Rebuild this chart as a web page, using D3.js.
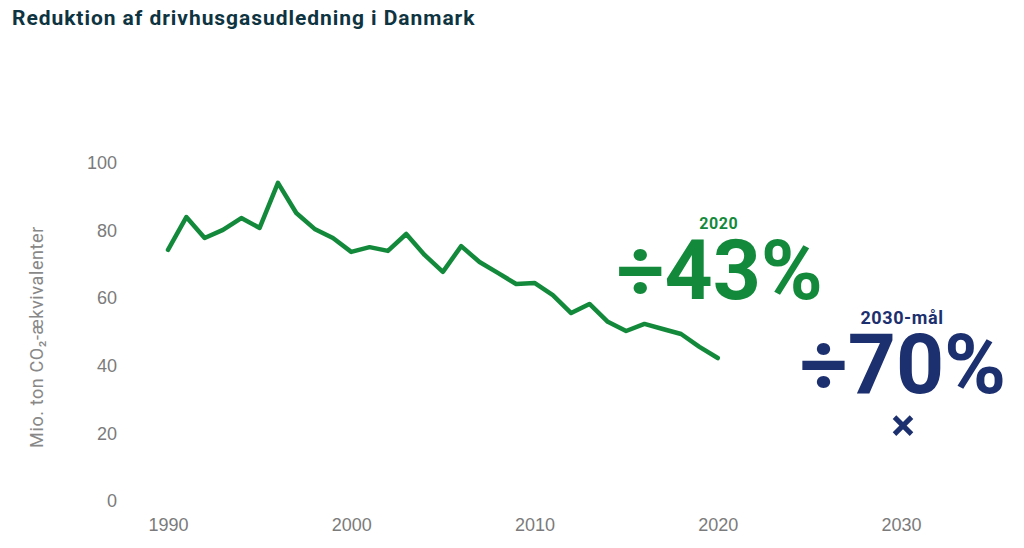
<!DOCTYPE html>
<html>
<head>
<meta charset="utf-8">
<script src="https://cdn.jsdelivr.net/npm/d3@7"></script>
<style>
  body { margin: 0; background: #fff; }
  svg { display: block; font-family: Roboto, "DejaVu Sans", sans-serif; }
  .tick text { fill: #7b7b7b; font-size: 18px; }
</style>
</head>
<body>
<div id="chart-area"></div>
<script>
// data
let years = [1990, 1991, 1992, 1993, 1994, 1995, 1996, 1997, 1998, 1999,
             2000, 2001, 2002, 2003, 2004, 2005, 2006, 2007, 2008, 2009,
             2010, 2011, 2012, 2013, 2014, 2015, 2016, 2017, 2018, 2019, 2020];
let emissions = [74.3, 84.0, 77.8, 80.2, 83.7, 80.8, 94.1, 85.2, 80.5, 77.8,
                 73.7, 75.1, 74.0, 79.0, 72.8, 67.8, 75.4, 70.7, 67.5, 64.2,
                 64.5, 60.9, 55.6, 58.3, 53.0, 50.3, 52.4, 50.9, 49.4, 45.6, 42.3];
let xTicks = [1990, 2000, 2010, 2020, 2030];
let yTicks = [0, 20, 40, 60, 80, 100];
let targetYear = [2030];
let targetValue = [22.3];
let notes = [
  { year: 2020, small: "2020", big: "÷43%", color: "#138a3b", bigY: 299, smallY: 229, smallSize: 16 },
  { year: 2030, small: "2030-mål", big: "÷70%", color: "#1c2f6e", bigY: 393, smallY: 324, smallSize: 18 }
];

let margin = { left: 168, top: 163, right: 123, bottom: 47 };
let width = 1024 - margin.left - margin.right;
let height = 548 - margin.top - margin.bottom;

let svg = d3.select("#chart-area")
  .append("svg")
  .attr("width", 1024)
  .attr("height", 548);

svg.append("text")
  .attr("x", 12)
  .attr("y", 25)
  .attr("fill", "#0e3441")
  .attr("font-size", "21px")
  .attr("font-weight", "bold")
  .attr("letter-spacing", "0.95px")
  .text("Reduktion af drivhusgasudledning i Danmark");

let g = svg.append("g")
  .attr("transform", `translate(${margin.left}, ${margin.top})`);

let x = d3.scaleLinear().domain([1990, 2030]).range([0, width]);
let y = d3.scaleLinear().domain([0, 100]).range([height, 0]);

let xAxis = g.append("g")
  .attr("transform", `translate(0, ${height})`)
  .call(d3.axisBottom(x).tickValues(xTicks).tickFormat(d3.format("d")).tickSize(0).tickPadding(17));
xAxis.select(".domain").remove();
xAxis.selectAll("text").attr("font-family", null).attr("font-size", null);

let yAxis = g.append("g")
  .call(d3.axisLeft(y).tickValues(yTicks).tickSize(0).tickPadding(51));
yAxis.select(".domain").remove();
yAxis.selectAll("text").attr("font-family", null).attr("font-size", null);

// rotated axis title, centred a bit below the middle of the axis
g.append("text")
  .attr("transform", "rotate(-90)")
  .attr("x", -174)
  .attr("y", 43 - margin.left)
  .attr("text-anchor", "middle")
  .attr("fill", "#888")
  .attr("font-size", "18px")
  .attr("letter-spacing", "0.6px")
  .text("Mio. ton CO₂-ækvivalenter");

let line = d3.line()
  .x(function(d, i){ return x(years[i]); })
  .y(function(d){ return y(d); });

g.append("path")
  .datum(emissions)
  .attr("fill", "none")
  .attr("stroke", "#138a3b")
  .attr("stroke-width", 4.5)
  .attr("stroke-linejoin", "round")
  .attr("stroke-linecap", "round")
  .attr("d", line);

g.selectAll(".target")
  .data(targetValue)
  .enter().append("path")
  .attr("class", "target")
  .attr("transform", function(d, i){ return `translate(${x(targetYear[i]) + 2}, ${y(d)})`; })
  .attr("d", d3.symbol(d3.symbolX, 190))
  .attr("fill", "none")
  .attr("stroke", "#1c2f6e")
  .attr("stroke-width", 5);

notes.forEach(function(n){
  svg.append("text")
    .attr("x", margin.left + x(n.year) + 1)
    .attr("y", n.smallY)
    .attr("text-anchor", "middle")
    .attr("fill", n.color)
    .attr("font-size", n.smallSize + "px")
    .attr("font-weight", "bold")
    .attr("letter-spacing", "0.6px")
    .text(n.small);

  svg.append("text")
    .attr("x", margin.left + x(n.year) + 2)
    .attr("y", n.bigY)
    .attr("text-anchor", "middle")
    .attr("fill", n.color)
    .attr("font-size", "84px")
    .attr("font-weight", "bold")
    .text(n.big);
});
</script>
</body>
</html>
